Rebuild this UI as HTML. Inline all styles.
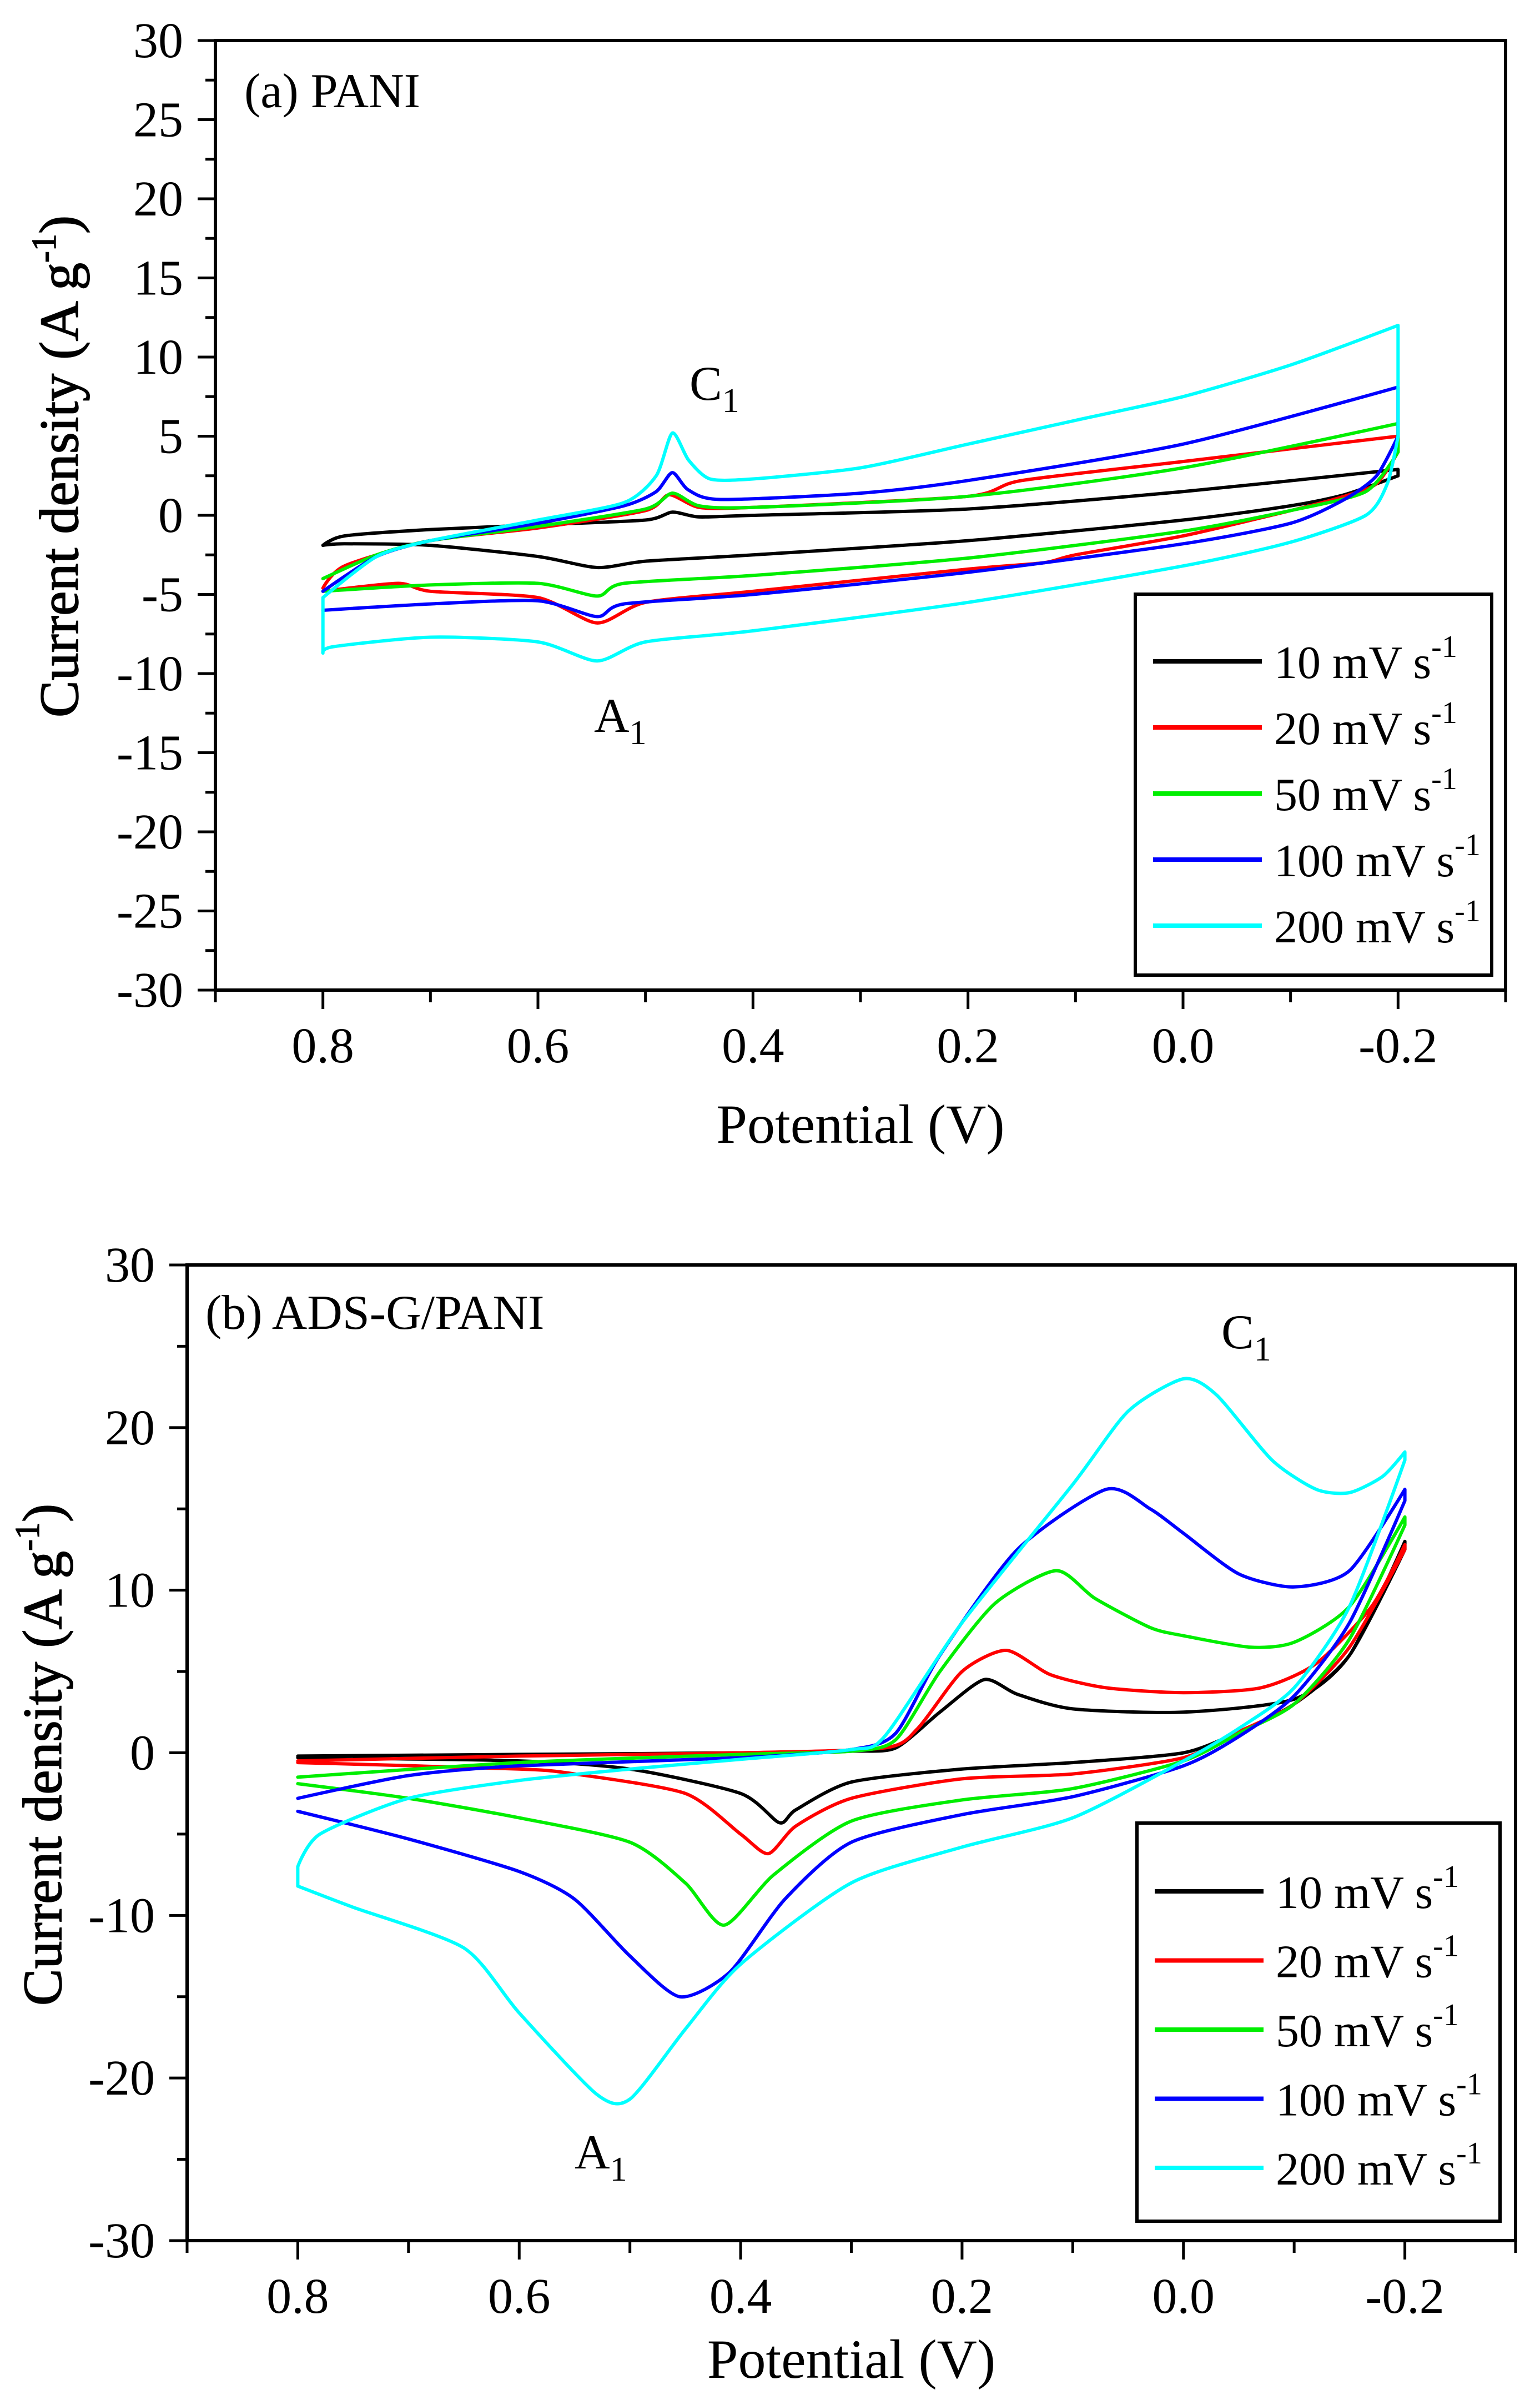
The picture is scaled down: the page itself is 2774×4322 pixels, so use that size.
<!DOCTYPE html>
<html><head><meta charset="utf-8"><style>
html,body{margin:0;padding:0;background:#fff}
svg{display:block}
text{font-family:"Liberation Serif",serif;fill:#000}
</style></head><body>
<svg id="fig" width="2774" height="4322" viewBox="0 0 2774 4322" xmlns="http://www.w3.org/2000/svg"></svg>
<script>
// ---------- data (V, J in A g^-1) ----------
const seriesLabels = ["10","20","50","100","200"];
const seriesColors = ["#000000","#ff0000","#00ee00","#0000ff","#00ffff"];
// Panel (a) PANI
const aV10 = [0.8,0.78,0.7,0.6,0.5,0.475,0.45,0.4,0.2,0.0,-0.2,-0.2,-0.15,-0.1,0.0,0.2,0.4,0.5,0.545,0.6,0.7,0.78,0.8];
const aJ10 = [-1.9,-1.3,-0.9,-0.6,-0.3,0.2,-0.1,0,0.4,1.5,2.9,2.5,1.3,0.6,-0.3,-1.6,-2.5,-2.9,-3.3,-2.6,-1.9,-1.8,-1.9];
const aV20 = [0.8,0.78,0.7,0.6,0.5,0.478,0.45,0.4,0.2,0.15,0.0,-0.2,-0.2,-0.18,-0.15,-0.1,0.0,0.1,0.13,0.2,0.4,0.5,0.545,0.6,0.7,0.73,0.8];
const aJ20 = [-4.6,-3.2,-1.6,-0.8,0.3,1.3,0.5,0.5,1.2,2.2,3.4,5.0,4.0,2.0,1.2,0.3,-1.3,-2.5,-3.0,-3.4,-4.8,-5.5,-6.8,-5.2,-4.8,-4.3,-4.8];
const aV50 = [0.8,0.75,0.7,0.6,0.5,0.475,0.45,0.4,0.2,0.0,-0.2,-0.2,-0.17,-0.1,0.0,0.2,0.4,0.52,0.545,0.6,0.7,0.8];
const aJ50 = [-4.0,-2.5,-1.6,-0.7,0.4,1.4,0.6,0.5,1.2,3.0,5.8,4.0,1.5,0.3,-1.0,-2.7,-3.8,-4.3,-5.1,-4.3,-4.4,-4.8];
const aV100 = [0.8,0.75,0.7,0.6,0.52,0.49,0.475,0.46,0.43,0.3,0.2,0.0,-0.2,-0.2,-0.18,-0.15,-0.1,0.0,0.2,0.4,0.52,0.545,0.6,0.7,0.8];
const aJ100 = [-4.8,-2.6,-1.6,-0.5,0.6,1.5,2.7,1.6,1.0,1.4,2.2,4.5,8.1,5.0,2.5,1.0,-0.5,-1.8,-3.6,-5.0,-5.6,-6.4,-5.4,-5.6,-6.0];
const aV200 = [0.8,0.75,0.7,0.6,0.52,0.49,0.475,0.46,0.44,0.4,0.3,0.2,0.1,0.0,-0.1,-0.2,-0.2,-0.19,-0.17,-0.1,0.0,0.2,0.4,0.5,0.545,0.6,0.7,0.79,0.8,0.8];
const aJ200 = [-5.2,-2.6,-1.6,-0.3,0.8,2.5,5.2,3.5,2.3,2.3,3.0,4.5,6.0,7.5,9.5,12.0,5.0,2.0,0.0,-1.7,-3.2,-5.5,-7.3,-8.0,-9.2,-8.0,-7.7,-8.3,-8.7,-5.2];
// Panel (b) ADS-G/PANI
const bV10 = [0.8,0.6,0.4,0.3,0.26,0.22,0.18,0.15,0.1,0.0,-0.1,-0.15,-0.2,-0.2,-0.15,-0.1,-0.05,0.0,0.1,0.2,0.3,0.35,0.365,0.4,0.5,0.6,0.8];
const bJ10 = [-0.2,-0.1,0,0.1,0.3,2.5,4.5,3.6,2.7,2.5,3.3,6.0,13.0,12.5,6.0,3.0,1.3,0,-0.6,-1.0,-1.8,-3.5,-4.3,-2.5,-1.0,-0.5,-0.3];
const bV20 = [0.8,0.6,0.4,0.27,0.24,0.2,0.16,0.12,0.07,0.0,-0.07,-0.12,-0.17,-0.2,-0.2,-0.15,-0.1,-0.05,0.0,0.1,0.2,0.3,0.35,0.375,0.4,0.45,0.55,0.6,0.8];
const bJ20 = [-0.5,-0.2,0,0.3,1.5,5.0,6.3,4.8,4.0,3.7,4.0,5.5,9.0,12.8,12.5,6.5,3.0,1.3,-0.3,-1.3,-1.6,-2.8,-4.5,-6.2,-5.0,-2.5,-1.3,-1.0,-0.6];
const bV50 = [0.8,0.6,0.4,0.3,0.26,0.22,0.17,0.115,0.08,0.03,0.0,-0.06,-0.1,-0.15,-0.2,-0.2,-0.15,-0.1,-0.05,0.0,0.1,0.2,0.3,0.37,0.415,0.45,0.5,0.6,0.7,0.8];
const bJ50 = [-1.5,-0.6,-0.1,0.1,0.8,5.0,9.2,11.2,9.5,7.7,7.2,6.5,6.8,9.0,14.5,14.0,7.0,3.0,1.2,-0.5,-2.2,-2.9,-4.2,-7.5,-10.6,-8.0,-5.5,-4.0,-2.8,-1.9];
const bV100 = [0.8,0.7,0.6,0.4,0.3,0.26,0.22,0.15,0.07,0.03,0.0,-0.05,-0.1,-0.15,-0.2,-0.2,-0.15,-0.1,-0.05,0.0,0.1,0.2,0.3,0.36,0.41,0.455,0.5,0.55,0.6,0.7,0.8];
const bJ100 = [-2.8,-1.4,-0.8,-0.3,0.2,1.2,6.0,12.5,16.2,15.0,13.5,11.0,10.2,11.2,16.2,15.5,8.0,3.5,1.0,-0.8,-2.7,-3.8,-5.5,-9.0,-13.5,-15.0,-12.5,-9.0,-7.3,-5.3,-3.6];
const bV200 = [0.8,0.78,0.7,0.6,0.5,0.4,0.3,0.27,0.2,0.1,0.05,0.0,-0.03,-0.08,-0.12,-0.15,-0.18,-0.2,-0.2,-0.15,-0.1,-0.05,0.0,0.1,0.2,0.3,0.4,0.45,0.5,0.53,0.6,0.65,0.75,0.8,0.8];
const bJ200 = [-7.0,-5.0,-2.8,-1.7,-1.0,-0.4,0.2,1.0,8.0,16.5,21.0,23.0,22.0,18.0,16.2,16.0,17.0,18.5,18.0,9.0,4.0,1.5,-0.5,-4.0,-5.8,-8.0,-13.0,-17.0,-21.3,-21.0,-16.0,-12.0,-9.5,-8.2,-7.0];
const xTicksMajor = [0.8,0.6,0.4,0.2,0.0,-0.2];
const xTickLabels = ["0.8","0.6","0.4","0.2","0.0","-0.2"];
const aYTicks = [30,25,20,15,10,5,0,-5,-10,-15,-20,-25,-30];
const bYTicks = [30,20,10,0,-10,-20,-30];

const NS="http://www.w3.org/2000/svg";
const svg=document.getElementById('fig');
function mk(tag,attrs,parent){const e=document.createElementNS(NS,tag);for(const k in attrs)e.setAttribute(k,attrs[k]);(parent||svg).appendChild(e);return e;}

function smoothPath(pts){
  let d="M"+pts[0][0].toFixed(1)+","+pts[0][1].toFixed(1);
  for(let i=0;i<pts.length-1;i++){
    const p1=pts[i],p2=pts[i+1];
    // corner points (sharp turns at scan reversals) get no tangent
    const p0=pts[Math.max(0,i-1)],p3=pts[Math.min(pts.length-1,i+2)];
    const sharp1=(i===0)||Math.abs(p1[0]-p0[0])<2||Math.abs(p1[0]-p2[0])<2;
    const sharp2=(i+1===pts.length-1)||Math.abs(p2[0]-p3[0])<2||Math.abs(p1[0]-p2[0])<2;
    const t=0.12;
    const c1=sharp1?p1:[p1[0]+(p2[0]-p0[0])*t,p1[1]+(p2[1]-p0[1])*t];
    const c2=sharp2?p2:[p2[0]-(p3[0]-p1[0])*t,p2[1]-(p3[1]-p1[1])*t];
    d+=" C"+c1[0].toFixed(1)+","+c1[1].toFixed(1)+" "+c2[0].toFixed(1)+","+c2[1].toFixed(1)+" "+p2[0].toFixed(1)+","+p2[1].toFixed(1);
  }
  return d;
}

function panel(cfg){
  const g=mk('g',{});
  
  
  const L=cfg.left,R=cfg.right,T=cfg.top,B=cfg.bottom;
  const sx=v=>L+(0.9-v)/1.2*(R-L);
  const sy=j=>T+(30-j)/60*(B-T);
  cfg.series.forEach((s,i)=>{
    const pts=s[0].map((v,k)=>[sx(v),sy(s[1][k])]);
    const p=mk('path',{d:smoothPath(pts),fill:'none',stroke:seriesColors[i],'stroke-width':6,'stroke-linejoin':'round','stroke-linecap':'round'},g);
    
    
  });
  const fr=mk('rect',{x:L,y:T,width:R-L,height:B-T,fill:'none',stroke:'#000','stroke-width':6},g);
  
  
  for(let k=0;k<=12;k++){
    const v=0.9-k*0.1;const x=sx(v);
    const major=(k%2===1);
    mk('line',{x1:x,y1:B,x2:x,y2:B+(major?34:22),stroke:'#000','stroke-width':5},g);
  }
  xTicksMajor.forEach((v,i)=>{
    const t=mk('text',{x:sx(v),y:B+130,'font-size':90,'text-anchor':'middle'},g);
    t.textContent=xTickLabels[i];
    
    
  });
  const step=cfg.yTicks[0]-cfg.yTicks[1];
  for(let j=30;j>=-30;j-=step/2){
    const y=sy(j);const major=Math.abs((j/step)-Math.round(j/step))<1e-6;
    mk('line',{x1:L-(major?32:18),y1:y,x2:L,y2:y,stroke:'#000','stroke-width':5},g);
  }
  cfg.yTicks.forEach(j=>{
    const t=mk('text',{x:L-58,y:sy(j)+30,'font-size':90,'text-anchor':'end'},g);
    t.textContent=String(j);
    
    
  });
  const xt=mk('text',{x:(L+R)/2,y:cfg.xTitleY,'font-size':100,'text-anchor':'middle'},g);
  xt.textContent="Potential (V)";
  
  
  const yt=mk('text',{x:0,y:0,'font-size':100,'text-anchor':'middle',transform:'translate('+(cfg.yTitleX)+','+cfg.yTitleY+') rotate(-90)','stroke':'#000','stroke-width':1.5},g);
  yt.innerHTML='Current density (A g<tspan dy="-40" font-size="62">-1</tspan><tspan dy="40">)</tspan>';
  
  
  const pl=mk('text',{x:cfg.labelX,y:cfg.labelY,'font-size':88},g);
  pl.textContent=cfg.label;
  
  
  cfg.peaks.forEach(pk=>{
    const t=mk('text',{x:pk[1],y:pk[2],'font-size':88},g);
    t.innerHTML=pk[0]+'<tspan dy="22" font-size="62">1</tspan>';
    
    
  });
  const lg=cfg.legend;
  const lb=mk('rect',{x:lg.x,y:lg.y,width:lg.w,height:lg.h,fill:'#fff',stroke:'#000','stroke-width':6},g);
  
  
  seriesLabels.forEach((s,i)=>{
    const y=lg.row0+i*lg.dy;
    const ln=mk('line',{x1:lg.x+32,y1:y,x2:lg.x+228,y2:y,stroke:seriesColors[i],'stroke-width':8},g);
    
    
    const t=mk('text',{x:lg.x+250,y:y+30,'font-size':84},g);
    t.innerHTML=s+' mV s<tspan dy="-38" font-size="56">-1</tspan>';
    
    
  });
}

panel({name:'panel-a-pani',left:388,right:2712,top:73,bottom:1783,yTicks:aYTicks,
  series:[[aV10,aJ10],[aV20,aJ20],[aV50,aJ50],[aV100,aJ100],[aV200,aJ200]],
  xTitleY:2058,yTitleX:140,yTitleY:840,label:'(a) PANI',labelX:440,labelY:193,
  peaks:[['C',1242,720],['A',1070,1318]],
  legend:{x:2045,y:1070,w:642,h:686,row0:1191,dy:119}});
panel({name:'panel-b-ads-g-pani',left:337,right:2730,top:2278,bottom:4035,yTicks:bYTicks,
  series:[[bV10,bJ10],[bV20,bJ20],[bV50,bJ50],[bV100,bJ100],[bV200,bJ200]],
  xTitleY:4282,yTitleX:110,yTitleY:3160,label:'(b) ADS-G/PANI',labelX:370,labelY:2393,
  peaks:[['C',2200,2428],['A',1035,3905]],
  legend:{x:2048,y:3283,w:654,h:717,row0:3406,dy:124.5}});
</script>
</body></html>
